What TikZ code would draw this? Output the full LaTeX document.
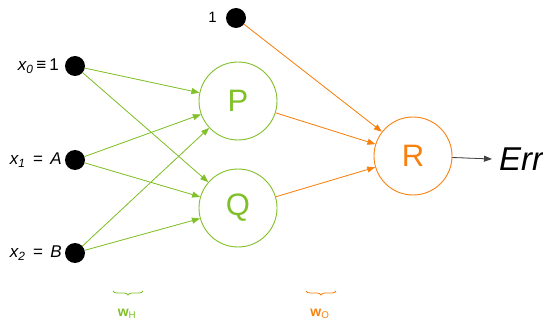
\documentclass[tikz,border=0pt]{standalone}
\usepackage{fontspec}
\setmainfont{Liberation Sans}
\usetikzlibrary{arrows.meta,decorations.pathreplacing}
\definecolor{hgreen}{RGB}{128,192,40}
\definecolor{oorange}{RGB}{248,128,16}
\begin{document}
\begin{tikzpicture}[x=1pt,y=-1pt,
  dot/.style={circle,fill=black,minimum size=20pt,inner sep=0pt},
  hnode/.style={circle,draw=hgreen,line width=0.9pt,minimum size=78pt,inner sep=0pt,text=hgreen,font=\fontsize{31}{31}\selectfont},
  onode/.style={circle,draw=oorange,line width=0.9pt,minimum size=78pt,inner sep=0pt,text=oorange,font=\fontsize{31}{31}\selectfont},
  garr/.style={draw=hgreen,line width=0.8pt,-{Triangle[length=8pt,width=6pt]},fill=hgreen},
  oarr/.style={draw=oorange,line width=0.8pt,-{Triangle[length=8pt,width=6pt]},fill=oorange},
  lbl/.style={font=\fontsize{17}{17}\selectfont,anchor=east,inner sep=0pt},
  wbrace/.style={decorate,decoration={brace,amplitude=4pt},line width=0.8pt}
]
\useasboundingbox (0,0) rectangle (543,323);
\node[dot] (x0) at (75,66) {};
\node[dot] (x1) at (75,160) {};
\node[dot] (x2) at (75,253) {};
\node[dot] (b) at (236,18) {};
\node[lbl] (lx0) at (59,66) {\textit{x\textsubscript{0}}\hspace{3pt}≡\hspace{3pt}1};
\node[lbl] (lx1) at (62,160) {\textit{x\textsubscript{1}\, =\, A}};
\node[lbl] (lx2) at (62,253) {\textit{x\textsubscript{2}\, =\, B}};
\node[lbl,font=\fontsize{15}{15}\selectfont] (lb) at (217,17) {1};
\node[hnode] (P) at (238,101) {P};
\node[hnode] (Q) at (238,208) {Q};
\node[onode] (R) at (413,156) {R};
\node[anchor=west,inner sep=0pt,font=\fontsize{33}{33}\selectfont\itshape] (err) at (499,159) {Err};
\foreach \s in {x0,x1,x2}{
  \draw[garr] (\s) -- (P);
  \draw[garr] (\s) -- (Q);
}
\draw[oarr] (b) -- (R);
\draw[oarr] (P) -- (R);
\draw[oarr] (Q) -- (R);
\draw[line width=0.8pt,draw=black!75,-{Triangle[length=8pt,width=6pt]},fill=black] (R) -- ([xshift=-7pt]err.west);
\coordinate (gh1) at (143,291);
\coordinate (gh2) at (113,291);
\coordinate (oh1) at (336,291);
\coordinate (oh2) at (306,291);
\draw[wbrace,draw=hgreen] (gh1) -- (gh2);
\draw[wbrace,draw=oorange] (oh1) -- (oh2);
\node[text=hgreen,font=\fontsize{14}{14}\selectfont] (wh) at (127,314) {\textbf{w}\textsubscript{H}};
\node[text=oorange,font=\fontsize{14}{14}\selectfont] (wo) at (320,314) {\textbf{w}\textsubscript{O}};
\end{tikzpicture}
\end{document}
